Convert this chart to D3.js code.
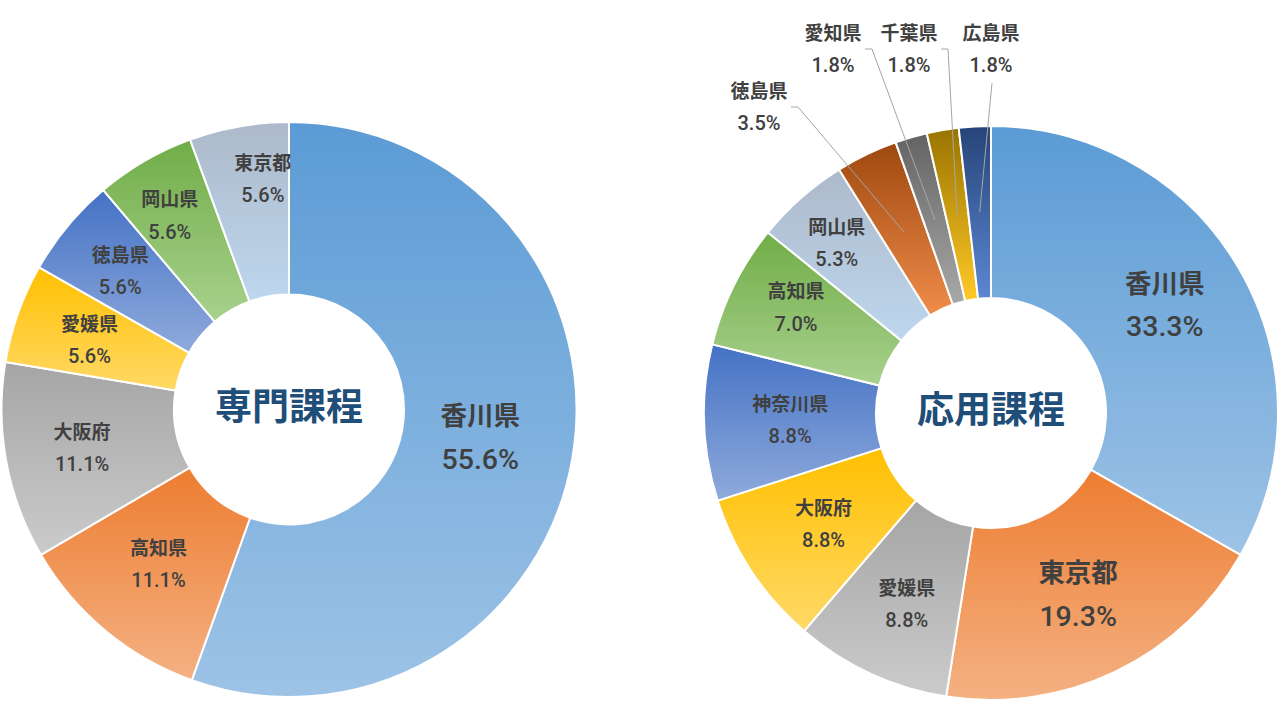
<!DOCTYPE html>
<html lang="ja">
<head>
<meta charset="utf-8">
<script src="https://cdn.jsdelivr.net/npm/d3@7"></script>
<style>
  html, body { margin: 0; padding: 0; background: #ffffff; }
  svg { display: block; }
  text { font-family: "Noto Sans CJK JP", "Noto Sans", sans-serif; }
</style>
</head>
<body>
<svg id="chart" width="1280" height="720"></svg>
<script>
// ---------- data ----------
const leftTitle = "専門課程";
const leftCategories = ["香川県", "高知県", "大阪府", "愛媛県", "徳島県", "岡山県", "東京都"];
const leftValues = [55.6, 11.1, 11.1, 5.6, 5.6, 5.6, 5.6];

const rightTitle = "応用課程";
const rightCategories = ["香川県", "東京都", "愛媛県", "大阪府", "神奈川県", "高知県", "岡山県", "徳島県", "愛知県", "千葉県", "広島県"];
const rightValues = [33.3, 19.3, 8.8, 8.8, 8.8, 7.0, 5.3, 3.5, 1.8, 1.8, 1.8];

// ---------- styles ----------
const palette = [
  ["#5B9BD5", "#9DC3E6"],
  ["#ED7D31", "#F4B183"],
  ["#A5A5A5", "#CBCBCB"],
  ["#FFC000", "#FFD966"],
  ["#4472C4", "#8FAADC"],
  ["#70AD47", "#A9D18E"],
  ["#ADB9CA", "#BDD7EE"],
  ["#9E480E", "#F08C4A"],
  ["#636363", "#A8A8A8"],
  ["#997300", "#FFC926"],
  ["#264478", "#5B87D2"]
];

const svg = d3.select("#chart");
const defs = svg.append("defs");

function drawDonut(cfg) {
  const g = svg.append("g").attr("transform", `translate(${cfg.cx},${cfg.cy})`);
  const pie = d3.pie().sort(null).value(d => d.value);
  const data = cfg.categories.map((c, i) => ({ name: c, value: cfg.values[i], idx: i }));
  const arcs = pie(data);
  const arc = d3.arc().innerRadius(cfg.inner).outerRadius(cfg.outer);
  const mid = d3.arc().innerRadius((cfg.inner + cfg.outer) / 2).outerRadius((cfg.inner + cfg.outer) / 2);

  arcs.forEach((a, i) => {
    const grad = defs.append("linearGradient")
      .attr("id", `${cfg.id}-g${i}`)
      .attr("x1", 0).attr("y1", 0).attr("x2", 0).attr("y2", 1);
    grad.append("stop").attr("offset", "0%").attr("stop-color", palette[i][0]);
    grad.append("stop").attr("offset", "100%").attr("stop-color", palette[i][1]);
  });

  g.selectAll("path.slice").data(arcs).join("path")
    .attr("class", "slice")
    .attr("d", arc)
    .attr("fill", (d, i) => `url(#${cfg.id}-g${i})`)
    .attr("stroke", "#ffffff")
    .attr("stroke-width", 2)
    .attr("stroke-linejoin", "round");

  arcs.forEach((a, i) => {
    const out = cfg.outside[a.data.name];
    const big = cfg.big.includes(a.data.name);
    const fs = big ? 26.5 : 19;
    const pfs = big ? 28.5 : 20;
    const gap = big ? 21.5 : 16;
    const [mx, my] = mid.centroid(a);
    let lx, ly;
    if (out) {
      lx = out.dx; ly = out.dy;
      const pts = out.line === "down"
        ? [[lx + 1, ly + 34], [mx, my]]
        : [[lx + out.halfW + 4, ly], [lx + out.halfW + 11, ly], [mx, my]];
      g.append("path")
        .attr("d", d3.line()(pts))
        .attr("fill", "none")
        .attr("stroke", "#A6A6A6")
        .attr("stroke-width", 1);
    } else {
      const nudge = cfg.nudge[a.data.name] || [0, 0];
      lx = mx + nudge[0]; ly = my + nudge[1];
    }
    const t = g.append("text")
      .attr("text-anchor", "middle")
      .attr("fill", "#404040")
      .attr("font-size", fs)
      .attr("font-weight", 700);
    t.append("tspan").attr("x", lx).attr("y", ly - gap).attr("dy", "0.35em").text(a.data.name);
    t.append("tspan").attr("x", lx).attr("y", ly + gap).attr("dy", "0.35em")
      .style("font-family", "Roboto, 'Noto Sans CJK JP', sans-serif")
      .attr("font-size", pfs)
      .attr("font-weight", 500)
      .text(d3.format(".1f")(a.data.value) + "%");
  });

  g.append("text")
    .attr("x", 0).attr("y", cfg.titleDy)
    .attr("dy", "0.35em")
    .attr("text-anchor", "middle")
    .attr("fill", "#1F4E79")
    .attr("font-size", 37)
    .attr("font-weight", 700)
    .text(cfg.title);
}

drawDonut({
  id: "L", cx: 289, cy: 409.5, outer: 287.5, inner: 115,
  title: leftTitle, titleDy: -2,
  categories: leftCategories, values: leftValues,
  big: ["香川県"],
  nudge: {
    "香川県": [-7, -7], "高知県": [-2, 0], "大阪府": [-9, 2], "愛媛県": [-10, -2],
    "徳島県": [-14, -10], "岡山県": [-18, -20], "東京都": [9, -32]
  },
  outside: {}
});

drawDonut({
  id: "R", cx: 991, cy: 413, outer: 287, inner: 115,
  title: rightTitle, titleDy: -3,
  categories: rightCategories, values: rightValues,
  big: ["香川県", "東京都"],
  nudge: {
    "香川県": [0, -7], "愛媛県": [0, 9], "高知県": [-15, -16], "岡山県": [-21, -19]
  },
  outside: {
    "徳島県": { dx: -232, dy: -306, halfW: 28, line: "side" },
    "愛知県": { dx: -158, dy: -364, halfW: 28, line: "side" },
    "千葉県": { dx: -82, dy: -364, halfW: 28, line: "side" },
    "広島県": { dx: 0, dy: -364, halfW: 28, line: "down" }
  }
});
</script>
</body>
</html>
